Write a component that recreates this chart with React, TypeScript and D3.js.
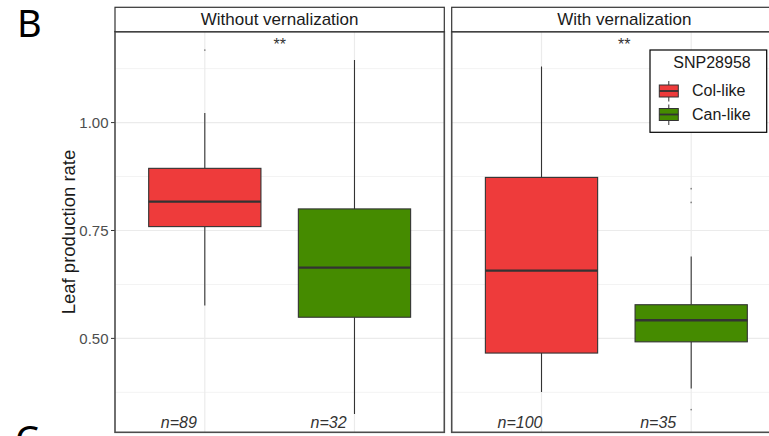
import React from "react";
import * as d3 from "d3";

const panels = ["Without vernalization", "With vernalization"];
const genotypes = ["Col-like", "Can-like"];
const colors = ["#EE3B3B", "#458B00"];
// [lower whisker, q1, median, q3, upper whisker]
const withoutStats = [
  [0.576, 0.759, 0.817, 0.894, 1.022],
  [0.325, 0.549, 0.664, 0.8, 1.145],
];
const withStats = [
  [0.376, 0.466, 0.657, 0.873, 1.13],
  [0.384, 0.492, 0.542, 0.578, 0.69],
];
const withoutOutliers = [[1.168], []];
const withOutliers = [[], [0.847, 0.815, 0.335]];
const withoutCounts = [89, 32];
const withCounts = [100, 35];
const signif = ["**", "**"];
const yTicks = [0.5, 0.75, 1.0];
const yMinor = [0.375, 0.625, 0.875, 1.125];
const yDomain = [0.2824, 1.2106];

const labelShift = [[0, 0], [0, -7]];

export default function App() {
  const W = 769, H = 436;
  const top = 31.7, bottom = 432.3;
  const y = d3.scaleLinear().domain(yDomain).range([bottom, top]);
  const panelDefs = [
    { name: panels[0], x0: 115, x1: 444.3, frameR: 444.3, stats: withoutStats, out: withoutOutliers, n: withoutCounts, sig: signif[0] },
    { name: panels[1], x0: 451.7, x1: 781, frameR: 797, stats: withStats, out: withOutliers, n: withCounts, sig: signif[1] },
  ];
  const font = "'Liberation Sans', Arial, sans-serif";
  return (
    <svg width={W} height={H} style={{ position: "absolute", left: 0, top: 0, background: "#fff" }} fontFamily={font}>
      <rect x={0} y={0} width={W} height={H} fill="#fff" />
      <text x={17} y={37} fontSize={38} fontFamily="'Noto Sans', 'Open Sans', sans-serif" fill="#000">B</text>
      <text x={15} y={453} fontSize={38} fontFamily="'Noto Sans', 'Open Sans', sans-serif" fill="#000">C</text>
      {/* y axis */}
      {yTicks.map((t) => (
        <g key={t}>
          <line x1={111} x2={115} y1={y(t)} y2={y(t)} stroke="#333" strokeWidth={1} />
          <text x={108.5} y={y(t)} dy="0.35em" textAnchor="end" fontSize={15} fill="#4d4d4d">{t.toFixed(2)}</text>
        </g>
      ))}
      <text transform={`translate(68,${(top + bottom) / 2}) rotate(-90)`} textAnchor="middle" dominantBaseline="central" fontSize={18.5} fill="#1a1a1a">Leaf production rate</text>
      {panelDefs.map((p, pi) => {
        const x = d3.scalePoint<string>().domain(genotypes).range([p.x0, p.x1]).padding(0.6);
        const step = x.step();
        const bw = step * 0.75;
        const mid = (p.x0 + p.frameR) / 2;
        return (
          <g key={p.name}>
            <clipPath id={`clip${pi}`}>
              <rect x={p.x0} y={top} width={p.frameR - p.x0} height={bottom - top} />
            </clipPath>
            <g clipPath={`url(#clip${pi})`}>
              {yMinor.map((t) => (
                <line key={"m" + t} x1={p.x0} x2={p.frameR} y1={y(t)} y2={y(t)} stroke="#f3f3f3" strokeWidth={1} />
              ))}
              {yTicks.map((t) => (
                <line key={"M" + t} x1={p.x0} x2={p.frameR} y1={y(t)} y2={y(t)} stroke="#ebebeb" strokeWidth={1.2} />
              ))}
              {genotypes.map((g) => (
                <line key={"v" + g} x1={x(g)} x2={x(g)} y1={top} y2={bottom} stroke="#ebebeb" strokeWidth={1.2} />
              ))}
              {genotypes.map((g, gi) => {
                const [lo, q1, med, q3, hi] = p.stats[gi];
                const cx = x(g) as number;
                return (
                  <g key={g}>
                    <line x1={cx} x2={cx} y1={y(hi)} y2={y(q3)} stroke="#333" strokeWidth={1.1} />
                    <line x1={cx} x2={cx} y1={y(q1)} y2={y(lo)} stroke="#333" strokeWidth={1.1} />
                    <rect x={cx - bw / 2} y={y(q3)} width={bw} height={y(q1) - y(q3)} fill={colors[gi]} stroke="#333" strokeWidth={1.1} />
                    <line x1={cx - bw / 2} x2={cx + bw / 2} y1={y(med)} y2={y(med)} stroke="#333" strokeWidth={2.3} />
                    {p.out[gi].map((o, oi) => (
                      <circle key={oi} cx={cx} cy={y(o)} r={0.9} fill="#888" />
                    ))}
                    <text x={cx - 44 + labelShift[pi][gi]} y={427.5} fontSize={16} fontStyle="italic" fill="#333">{`n=${p.n[gi]}`}</text>
                  </g>
                );
              })}
              <text x={mid} y={50} textAnchor="middle" fontSize={16} fill="#333">{p.sig}</text>
            </g>
            <rect x={p.x0} y={top} width={p.frameR - p.x0} height={bottom - top} fill="none" stroke="#4d4d4d" strokeWidth={1.6} />
            <rect x={p.x0} y={7.3} width={p.frameR - p.x0} height={top - 7.3} fill="#fff" stroke="#333" strokeWidth={1.2} />
            <text x={mid} y={19.5} dy="0.35em" textAnchor="middle" fontSize={17} fill="#1a1a1a">{p.name}</text>
          </g>
        );
      })}
      {/* legend */}
      <g>
        <rect x={650} y={50} width={116.7} height={82.3} fill="#fff" stroke="#000" strokeWidth={1.2} />
        <text x={712} y={67.5} textAnchor="middle" fontSize={16} fill="#1a1a1a">SNP28958</text>
        {genotypes.map((g, gi) => {
          const ky = 91 + gi * 23.5;
          return (
            <g key={g}>
              <line x1={668.8} x2={668.8} y1={ky - 10} y2={ky + 10.5} stroke="#333" strokeWidth={1} />
              <rect x={659.3} y={ky - 6} width={19} height={12} fill={colors[gi]} stroke="#333" strokeWidth={1} />
              <line x1={659.3} x2={678.3} y1={ky} y2={ky} stroke="#333" strokeWidth={1.8} />
              <text x={692} y={ky + 5.2} fontSize={16} fill="#1a1a1a">{g}</text>
            </g>
          );
        })}
      </g>
    </svg>
  );
}
